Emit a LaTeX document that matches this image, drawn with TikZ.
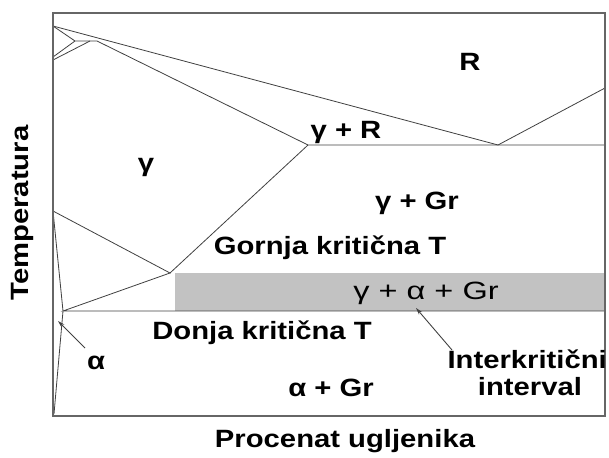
\documentclass[tikz,border=0pt]{standalone}
\usepackage{fontspec}
\setmainfont{Liberation Sans}
\usetikzlibrary{arrows.meta}
\newcommand\widetxt[1]{\scalebox{1.17}[1]{#1}}
\newcommand\widereg[1]{\scalebox{1.3}[1]{#1}}
\begin{document}
\begin{tikzpicture}[x=1pt,y=-1pt,
  phase/.style={draw=black!75, line width=0.8pt},
  frame/.style={draw=black!60, line width=1.4pt},
  lbl/.style={font=\bfseries\fontsize{25}{27}\selectfont, inner sep=0pt},
  rlbl/.style={font=\fontsize{25}{27}\selectfont, inner sep=0pt},
  ptr/.style={draw=black!75, line width=0.9pt, -{Stealth[length=7pt,width=4pt]}}]
\useasboundingbox (0,0) rectangle (609,457);
% intercritical band
\fill[black!24] (175,273) rectangle (605,311);
% coordinates
\coordinate (A) at (53,26);
\coordinate (B1) at (53,57);
\coordinate (B2) at (53,60);
\coordinate (J) at (75,41);
\coordinate (P1) at (90,41);
\coordinate (P2) at (97,41);
\coordinate (E) at (498,145);
\coordinate (Rt) at (605,88);
\coordinate (Rh) at (605,145);
\coordinate (G) at (308,145);
\coordinate (C) at (170,273);
\coordinate (L1) at (53,211);
\coordinate (S) at (63,311);
\coordinate (Sr) at (605,311);
\coordinate (Bot) at (54,414);
% phase lines
\draw[phase] (A) -- (E) -- (Rt);
\draw[phase] (A) -- (J) -- (P1) -- (P2) -- (G) -- (Rh);
\draw[phase] (B1) -- (J);
\draw[phase] (B2) -- (P1);
\draw[phase] (G) -- (C);
\draw[phase] (L1) -- (C) -- (S) -- (Sr);
\draw[phase] (L1) -- (S) -- (Bot);
% frame
\draw[frame] (53,13) rectangle (605,416);
% labels
\node[lbl] (lR) at (470,62) {\widetxt{R}};
\node[lbl] (lgR) at (346,132) {\widetxt{γ + R}};
\node[lbl] (lg) at (146,167) {\widetxt{γ}};
\node[lbl] (lgGr) at (417,203) {\widetxt{γ + Gr}};
\node[lbl] (lgor) at (330,248) {\widetxt{Gornja kritična T}};
\node[rlbl] (lgaGr) at (426,293) {\widereg{γ + α + Gr}};
\node[lbl] (ldon) at (262,333) {\widetxt{Donja kritična T}};
\node[lbl] (la) at (96,363) {\widetxt{α}};
\node[lbl] (laGr) at (331,388) {\widetxt{α + Gr}};
\node[lbl, anchor=east] (lint) at (607,359) {\widetxt{Interkritični}};
\node[lbl] (lintv) at (530,387) {\widetxt{interval}};
\node[lbl] (lx) at (345,441) {\widetxt{Procenat ugljenika}};
\node[lbl, rotate=90] (ly) at (22,213) {\widetxt{Temperatura}};
% pointers
\coordinate (aTip) at (58,321);
\coordinate (aTail) at (85,348);
\coordinate (iTip) at (416,308);
\coordinate (iTail) at (452,350);
\draw[ptr] (aTail) -- (aTip);
\draw[ptr] (iTail) -- (iTip);
\end{tikzpicture}
\end{document}
